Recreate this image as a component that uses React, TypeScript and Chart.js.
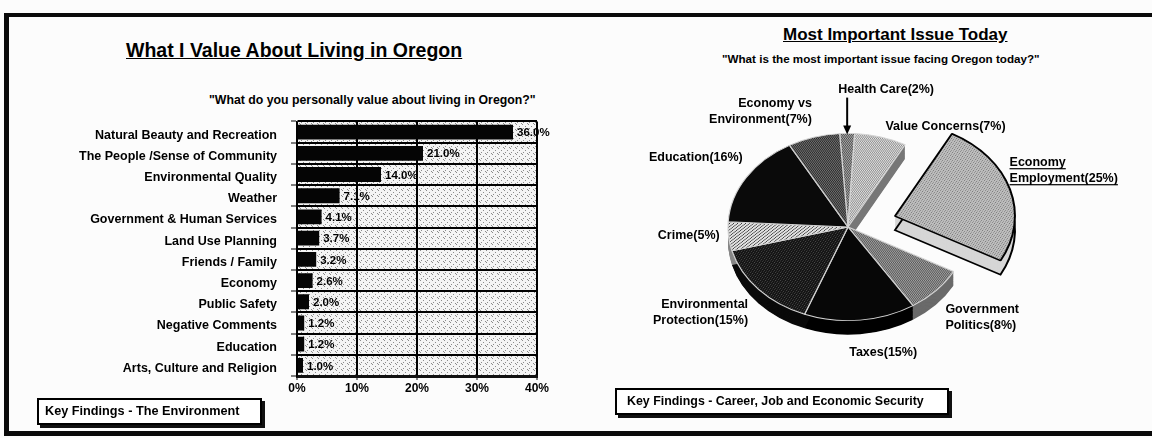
import React, { useEffect, useRef } from "react";
import { Chart, registerables } from "chart.js";

Chart.register(...registerables);

const FONT = '"Liberation Sans", Arial, Helvetica, sans-serif';

// ---------- data ----------
const VALUE_CATEGORIES = [
  "Natural Beauty and Recreation",
  "The People /Sense of Community",
  "Environmental Quality",
  "Weather",
  "Government & Human Services",
  "Land Use Planning",
  "Friends / Family",
  "Economy",
  "Public Safety",
  "Negative Comments",
  "Education",
  "Arts, Culture and Religion",
];
const VALUE_PERCENTS = [36.0, 21.0, 14.0, 7.1, 4.1, 3.7, 3.2, 2.6, 2.0, 1.2, 1.2, 1.0];
const VALUE_TICKS = [0, 10, 20, 30, 40];

const ISSUE_CATEGORIES = [
  ["Health Care"],
  ["Value Concerns"],
  ["Economy", "Employment"],
  ["Government", "Politics"],
  ["Taxes"],
  ["Environmental", "Protection"],
  ["Crime"],
  ["Education"],
  ["Economy vs", "Environment"],
];
const ISSUE_PERCENTS = [2, 7, 25, 8, 15, 15, 5, 16, 7];

// ---------- styles ----------
const PIE_EXPLODE = [0, 0, 49, 0, 0, 0, 0, 0, 0];
const PIE_SIDES = ["#555", "#777", "#d6d6d6", "#6a6a6a", "#000", "#0a0a0a", "#888", "#000", "#222"];
const LABEL_NUDGE = [
  [39, -36],
  [2, -3],
  [-10, -17],
  [2, 22],
  [22, 25],
  [-3, 18],
  [1, -2],
  [5, -16],
  [1, -18],
];
const PIE_UNDERLINE = [false, false, true, false, false, false, false, false, false];
const PIE_CALLOUT = [true, false, false, false, false, false, false, false, false];
const ELLIPSE_K = 0.78;
const PIE_DEPTH = 14;
const PIE_RADIUS = 120;
const LABEL_R = 130;

function pattern(ctx: CanvasRenderingContext2D, w: number, h: number, paint: (g: CanvasRenderingContext2D) => void) {
  const c = document.createElement("canvas");
  c.width = w;
  c.height = h;
  const g = c.getContext("2d")!;
  paint(g);
  return ctx.createPattern(c, "repeat")!;
}
const checker = (ctx: CanvasRenderingContext2D, a: string, b: string) =>
  pattern(ctx, 2, 2, (g) => {
    g.fillStyle = a;
    g.fillRect(0, 0, 2, 2);
    g.fillStyle = b;
    g.fillRect(0, 0, 1, 1);
    g.fillRect(1, 1, 1, 1);
  });
const speckle = (ctx: CanvasRenderingContext2D, base: string, dot: string) =>
  pattern(ctx, 5, 5, (g) => {
    g.fillStyle = base;
    g.fillRect(0, 0, 5, 5);
    g.fillStyle = dot;
    [[0, 0], [2, 1], [4, 2], [1, 3], [3, 4]].forEach(([x, y]) => g.fillRect(x, y, 1, 1));
  });
const sparse = (ctx: CanvasRenderingContext2D, base: string, dot: string) =>
  pattern(ctx, 6, 6, (g) => {
    g.fillStyle = base;
    g.fillRect(0, 0, 6, 6);
    g.fillStyle = dot;
    [[0, 0], [3, 2], [1, 4], [5, 5]].forEach(([x, y]) => g.fillRect(x, y, 1, 1));
  });
const hatch = (ctx: CanvasRenderingContext2D, base: string, line: string) =>
  pattern(ctx, 4, 4, (g) => {
    g.fillStyle = base;
    g.fillRect(0, 0, 4, 4);
    g.fillStyle = line;
    for (let i = 0; i < 4; i++) g.fillRect(3 - i, i, 1, 1);
  });

function BarChart() {
  const ref = useRef<HTMLCanvasElement>(null);
  useEffect(() => {
    const canvas = ref.current!;
    const ctx0 = canvas.getContext("2d")!;
    const bg = sparse(ctx0, "#f4f4f4", "#8a8a8a");

    const plotBg = {
      id: "plotBg",
      beforeDraw(chart: any) {
        const { ctx, chartArea: a } = chart;
        ctx.save();
        ctx.fillStyle = bg;
        ctx.fillRect(a.left, a.top, a.right - a.left, a.bottom - a.top);
        ctx.restore();
      },
    };
    const valueLabels = {
      id: "valueLabels",
      afterDatasetsDraw(chart: any) {
        const { ctx } = chart;
        const meta = chart.getDatasetMeta(0);
        ctx.save();
        ctx.font = `bold 11.5px ${FONT}`;
        ctx.fillStyle = "#000";
        ctx.textBaseline = "middle";
        ctx.textAlign = "left";
        meta.data.forEach((bar: any, i: number) => {
          ctx.fillText(VALUE_PERCENTS[i].toFixed(1) + "%", bar.x + 4, bar.y + 1);
        });
        ctx.restore();
      },
    };

    const chart = new Chart(canvas, {
      type: "bar",
      data: {
        labels: VALUE_CATEGORIES,
        datasets: [
          {
            data: VALUE_PERCENTS,
            backgroundColor: "#050505",
            borderWidth: 0,
            barPercentage: 0.7,
            categoryPercentage: 1,
          },
        ],
      },
      options: {
        indexAxis: "y",
        responsive: false,
        animation: false,
        devicePixelRatio: 1,
        events: [],
        layout: { padding: { left: 0, top: 21, right: 33, bottom: 4 } },
        plugins: { legend: { display: false }, tooltip: { enabled: false } },
        scales: {
          x: {
            type: "linear",
            position: "bottom",
            min: VALUE_TICKS[0],
            max: VALUE_TICKS[VALUE_TICKS.length - 1],
            afterBuildTicks: (s: any) => {
              s.ticks = VALUE_TICKS.map((v) => ({ value: v }));
            },
            afterFit: (s: any) => {
              s.height = 30;
            },
            ticks: {
              callback: (v: any) => v + "%",
              font: { family: FONT, size: 12, weight: "bold" },
              color: "#000",
              padding: 1,
              maxRotation: 0,
            },
            grid: { color: "#000", lineWidth: 2, tickLength: 4, tickWidth: 1, tickColor: "#000" },
            border: { display: true, color: "#111", width: 3 },
          },
          y: {
            type: "category",
            position: "left",
            afterFit: (s: any) => {
              s.width = 297;
            },
            ticks: {
              font: { family: FONT, size: 12.5, weight: "bold" },
              color: "#000",
              padding: 14,
              labelOffset: 3,
              autoSkip: false,
            },
            grid: { color: "#000", lineWidth: 2, offset: true, tickLength: 6, tickWidth: 1, tickColor: "#000" },
            border: { display: true, color: "#000", width: 1.5 },
          },
        },
      } as any,
      plugins: [plotBg, valueLabels],
    });
    return () => chart.destroy();
  }, []);
  return <canvas ref={ref} width={570} height={310} style={{ position: "absolute", left: 0, top: 100 }} />;
}

function PieChart() {
  const ref = useRef<HTMLCanvasElement>(null);
  useEffect(() => {
    const canvas = ref.current!;
    const c = canvas.getContext("2d")!;
    const fills: any[] = [
      checker(c, "#4a4a4a", "#b0b0b0"),
      checker(c, "#8c8c8c", "#e6e6e6"),
      speckle(c, "#bdbdbd", "#7a7a7a"),
      checker(c, "#555555", "#a5a5a5"),
      "#070707",
      speckle(c, "#151515", "#4a4a4a"),
      hatch(c, "#e0e0e0", "#3a3a3a"),
      "#0a0a0a",
      checker(c, "#262626", "#777777"),
    ];

    const pie3d = {
      id: "pie3d",
      afterDatasetsUpdate(chart: any) {
        const meta = chart.getDatasetMeta(0);
        meta.data.forEach((arc: any, i: number) => {
          const d = PIE_EXPLODE[i];
          if (!d) return;
          const mid = (arc.startAngle + arc.endAngle) / 2;
          arc.x += Math.cos(mid) * d;
          arc.y += Math.sin(mid) * d;
        });
      },
      beforeDatasetsDraw(chart: any) {
        const { ctx, chartArea } = chart;
        const cy = (chartArea.top + chartArea.bottom) / 2;
        ctx.save();
        ctx.translate(0, cy * (1 - ELLIPSE_K));
        ctx.scale(1, ELLIPSE_K);
        const meta = chart.getDatasetMeta(0);
        const du = Math.ceil(PIE_DEPTH / ELLIPSE_K);
        meta.data.forEach((arc: any, i: number) => {
          ctx.fillStyle = PIE_SIDES[i];
          for (let t = du; t >= 1; t--) {
            ctx.beginPath();
            ctx.moveTo(arc.x, arc.y + t);
            ctx.arc(arc.x, arc.y + t, arc.outerRadius, arc.startAngle, arc.endAngle);
            ctx.closePath();
            ctx.fill();
          }
          if (PIE_EXPLODE[i]) {
            ctx.strokeStyle = "#000";
            ctx.lineWidth = 2;
            ctx.beginPath();
            ctx.moveTo(arc.x, arc.y + du);
            ctx.arc(arc.x, arc.y + du, arc.outerRadius, arc.startAngle, arc.endAngle);
            ctx.closePath();
            ctx.stroke();
          }
        });
      },
      afterDatasetsDraw(chart: any) {
        const { ctx, chartArea } = chart;
        ctx.restore();
        const cy = (chartArea.top + chartArea.bottom) / 2;
        const meta = chart.getDatasetMeta(0);
        ctx.save();
        ctx.font = `bold 12.5px ${FONT}`;
        ctx.fillStyle = "#000";
        ctx.strokeStyle = "#000";
        ctx.textBaseline = "middle";
        meta.data.forEach((arc: any, i: number) => {
          const mid = (arc.startAngle + arc.endAngle) / 2;
          const co = Math.cos(mid);
          const si = Math.sin(mid);
          const ax = arc.x + co * LABEL_R + LABEL_NUDGE[i][0];
          const ay = cy + (arc.y + si * LABEL_R - cy) * ELLIPSE_K + LABEL_NUDGE[i][1];
          const align = co > 0.15 ? "left" : co < -0.15 ? "right" : "center";
          ctx.textAlign = align;
          const lines = [...ISSUE_CATEGORIES[i]];
          lines[lines.length - 1] += `(${ISSUE_PERCENTS[i]}%)`;
          const lh = 16;
          lines.forEach((t, j) => {
            const y = ay + (j - (lines.length - 1) / 2) * lh;
            ctx.fillText(t, ax, y);
            if (PIE_UNDERLINE[i]) {
              const w = ctx.measureText(t).width;
              const x0 = align === "left" ? ax : align === "right" ? ax - w : ax - w / 2;
              ctx.fillRect(x0, y + 6, w, 1.2);
            }
          });
          if (PIE_CALLOUT[i]) {
            const rx = arc.x + co * arc.outerRadius;
            const ry = cy + (arc.y + si * arc.outerRadius - cy) * ELLIPSE_K;
            const top = ay + 8;
            ctx.lineWidth = 2;
            ctx.beginPath();
            ctx.moveTo(rx, top);
            ctx.lineTo(rx, ry - 6);
            ctx.stroke();
            ctx.beginPath();
            ctx.moveTo(rx - 4, ry - 8);
            ctx.lineTo(rx + 4, ry - 8);
            ctx.lineTo(rx, ry + 1);
            ctx.closePath();
            ctx.fill();
          }
        });
        ctx.restore();
      },
    };

    const chart = new Chart(canvas, {
      type: "pie",
      data: {
        labels: ISSUE_CATEGORIES.map((l) => l.join(" ")),
        datasets: [
          {
            data: ISSUE_PERCENTS,
            backgroundColor: fills,
            borderColor: PIE_EXPLODE.map((e) => (e ? "#000" : "#d4d4d4")),
            borderWidth: PIE_EXPLODE.map((e) => (e ? 2 : 1.2)),
          },
        ],
      },
      options: {
        responsive: false,
        animation: false,
        devicePixelRatio: 1,
        events: [],
        radius: PIE_RADIUS,
        rotation: -4,
        layout: { padding: 0 },
        plugins: { legend: { display: false }, tooltip: { enabled: false } },
      } as any,
      plugins: [pie3d],
    });
    return () => chart.destroy();
  }, []);
  return <canvas ref={ref} width={576} height={334} style={{ position: "absolute", left: 560, top: 60 }} />;
}

const textBase: React.CSSProperties = {
  position: "absolute",
  fontFamily: FONT,
  fontWeight: "bold",
  color: "#000",
  whiteSpace: "nowrap",
  lineHeight: 1,
  margin: 0,
};

export default function App() {
  return (
    <div
      style={{
        position: "absolute",
        left: 0,
        top: 0,
        width: 1152,
        height: 438,
        overflow: "hidden",
        background: "#fcfcfc",
      }}
    >
      <div
        style={{
          position: "absolute",
          left: 4,
          top: 13,
          width: 1200,
          height: 423,
          boxSizing: "border-box",
          borderTop: "4px solid #0a0a0a",
          borderLeft: "5px solid #0a0a0a",
          borderBottom: "5px solid #0a0a0a",
        }}
      />
      <div style={{ ...textBase, left: 126, top: 40.5, fontSize: 19.5, textDecoration: "underline" }}>
        What I Value About Living in Oregon
      </div>
      <div style={{ ...textBase, left: 209, top: 93.5, fontSize: 12.3 }}>
        "What do you personally value about living in Oregon?"
      </div>
      <div style={{ ...textBase, left: 783, top: 26, fontSize: 17, textDecoration: "underline" }}>
        Most Important Issue Today
      </div>
      <div style={{ ...textBase, left: 722, top: 53, fontSize: 11.65 }}>
        "What is the most important issue facing Oregon today?"
      </div>
      <BarChart />
      <PieChart />
      <div
        style={{
          position: "absolute",
          left: 37,
          top: 398,
          width: 225,
          height: 27,
          boxSizing: "border-box",
          border: "2px solid #000",
          boxShadow: "3px 3px 0 #111",
          background: "#fff",
        }}
      >
        <div style={{ ...textBase, position: "static", fontSize: 12.7, lineHeight: "23px", paddingLeft: 6 }}>
          Key Findings - The Environment
        </div>
      </div>
      <div
        style={{
          position: "absolute",
          left: 615,
          top: 388,
          width: 334,
          height: 27,
          boxSizing: "border-box",
          border: "2px solid #000",
          boxShadow: "3px 3px 0 #111",
          background: "#fff",
        }}
      >
        <div style={{ ...textBase, position: "static", fontSize: 12.4, lineHeight: "23px", paddingLeft: 10 }}>
          Key Findings - Career, Job and Economic Security
        </div>
      </div>
    </div>
  );
}
